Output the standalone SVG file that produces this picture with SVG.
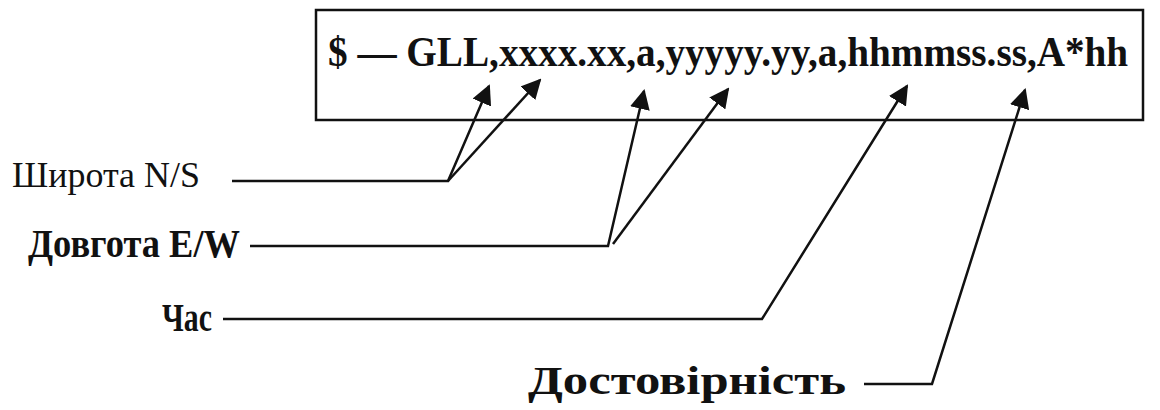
<svg xmlns="http://www.w3.org/2000/svg" width="1160" height="410" viewBox="0 0 1160 410">
<style>
.box{fill:#fff;stroke:#111;stroke-width:2.5}
.ln{fill:none;stroke:#111;stroke-width:2.5;stroke-linejoin:miter}
.title{font-family:"Liberation Serif","Times New Roman",serif;font-weight:bold;font-size:39px;fill:#111}
.lbl{font-family:"Liberation Serif","Times New Roman",serif;font-size:36px;fill:#111}
.lblb{font-family:"Liberation Serif","Times New Roman",serif;font-weight:bold;font-size:40px;fill:#111}
</style>
<defs>
<marker id="ah" viewBox="0 0 10 10" refX="9" refY="5" markerWidth="8" markerHeight="8" markerUnits="strokeWidth" orient="auto">
<path d="M0,0 L10,5 L0,10 Z" fill="#111"/>
</marker>
</defs>
<rect width="1160" height="410" fill="#fff"/>
<g id="sentence">
<rect class="box" x="316" y="10" width="827" height="110"/>
<text class="title" transform="translate(328,66) scale(1.005,1.08)" x="0" y="0">$ — GLL,xxxx.xx,a,yyyyy.yy,a,hhmmss.ss,A*hh</text>
</g>
<g id="lat">
<text class="lbl" x="12" y="187" textLength="188" lengthAdjust="spacingAndGlyphs">Широта N/S</text>
</g>
<g id="lon">
<text class="lblb" x="28" y="257" textLength="212" lengthAdjust="spacingAndGlyphs">Довгота E/W</text>
</g>
<g id="time">
<text class="lblb" x="162" y="331" textLength="50" lengthAdjust="spacingAndGlyphs">Час</text>
</g>
<g id="valid">
<text class="lblb" x="528" y="394" textLength="318" lengthAdjust="spacingAndGlyphs">Достовірність</text>
</g>
<g id="connectors">
<polyline class="ln" points="232,181 448,181 489,86" marker-end="url(#ah)"/>
<polyline class="ln" points="448,181 540,80" marker-end="url(#ah)"/>
<polyline class="ln" points="250,246 608,246 644,91" marker-end="url(#ah)"/>
<polyline class="ln" points="613,244 728,89" marker-end="url(#ah)"/>
<polyline class="ln" points="223,319 762,319 907,86" marker-end="url(#ah)"/>
<polyline class="ln" points="864,384 932,384 1025,90" marker-end="url(#ah)"/>
</g>
</svg>
